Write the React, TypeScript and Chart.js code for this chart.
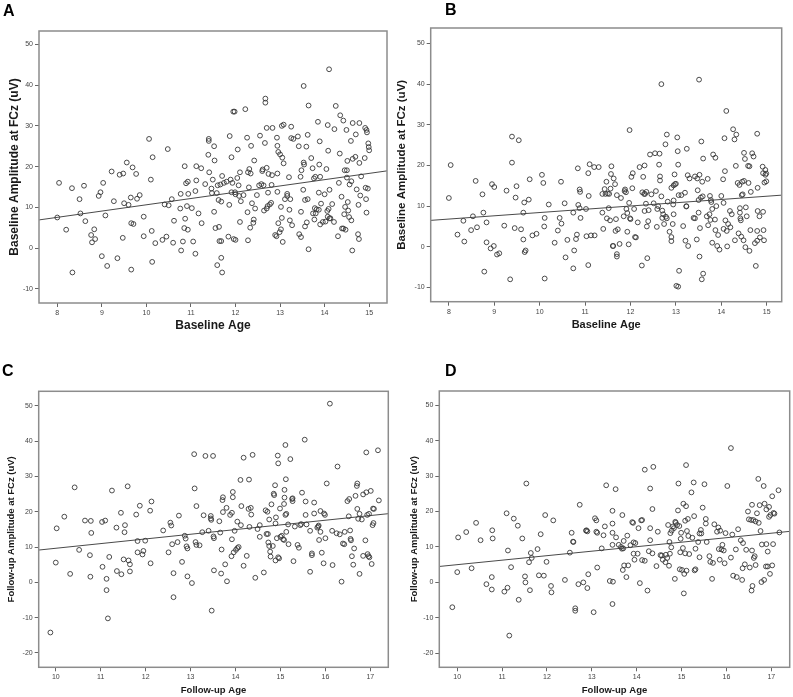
import React, { useEffect, useRef } from "react";
import { Chart, registerables } from "chart.js";

Chart.register(...registerables);

// ---------------- DATA ----------------
const xTicksBaseline = [8, 9, 10, 11, 12, 13, 14, 15];
const yTicksBaseline = [-10, 0, 10, 20, 30, 40, 50];
const xTicksFollow = [10, 11, 12, 13, 14, 15, 16, 17];
const yTicksFollow = [-20, -10, 0, 10, 20, 30, 40, 50];

const panelLetters = ["A", "B", "C", "D"];
const xTitles = ["Baseline Age", "Baseline Age", "Follow-up Age", "Follow-up Age"];
const yTitles = [
  "Baseline Amplitude at FCz (uV)",
  "Baseline Amplitude at FCz (uV)",
  "Follow-up Amplitude at FCz (uV)",
  "Follow-up Amplitude at FCz (uV)",
];

const xRangeA = [7.59, 15.4];
const yRangeA = [-13.5, 53.3];
const xRangeB = [7.6, 15.33];
const yRangeB = [-13.5, 53.8];
const xRangeC = [9.62, 17.4];
const yRangeC = [-24.05, 54.1];
const xRangeD = [9.6, 17.41];
const yRangeD = [-23.95, 54.0];

// fit line end points [age, amplitude]
const lineA: [number, number][] = [[7.59, 6.9], [15.4, 18.95]];
const lineB: [number, number][] = [[7.6, 6.5], [15.33, 12.7]];
const lineC: [number, number][] = [[9.62, 9.15], [17.4, 19.45]];
const lineD: [number, number][] = [[9.6, 4.5], [17.41, 14.4]];

const pointsA: [number, number][] = [
  [8.0,7.5],[8.04,16],[8.2,4.5],[8.33,14.7],[8.34,-6],[8.5,12],[8.52,8.5],[8.6,15.3],[8.63,6.6],[8.76,3.2],[8.78,1.4],[8.83,4.6],[8.85,2.2],[8.93,12.8],[8.97,13.7],[9.0,-2],[9.03,16],[9.08,8],[9.12,-4.4],[9.22,18.8],[9.27,11.5],[9.35,-2.5],[9.4,18],[9.47,2.5],[9.48,18.3],[9.5,11],[9.56,21],[9.6,10.6],[9.65,12.4],[9.66,6.1],[9.66,-5.3],[9.69,19.8],[9.71,5.9],[9.77,18.2],[9.79,12.1],[9.85,13],[9.94,7.7],[9.94,2.9],
  [10.06,26.8],[10.1,16.8],[10.12,4.2],[10.13,-3.4],[10.14,22.3],[10.2,1.2],[10.36,2],[10.41,10.7],[10.45,2.8],[10.48,24.3],[10.5,10.5],[10.57,12],[10.6,1.3],[10.62,6.7],[10.76,9.7],[10.77,13.3],[10.78,-0.6],[10.82,1.6],[10.85,4.9],[10.86,20.1],[10.87,7.2],[10.89,15.9],[10.91,10.3],[10.93,16.3],[10.93,4.5],[10.94,13.3],
  [11.02,9.8],[11.05,1.6],[11.1,-1.4],[11.1,14],[11.12,16.6],[11.12,20.1],[11.17,8.5],[11.23,19.6],[11.24,6.1],[11.32,15.7],[11.39,22.9],[11.4,26.8],[11.4,26.3],[11.41,18.6],[11.46,14.6],[11.47,13.5],[11.49,16.8],[11.52,25],[11.52,8.9],[11.53,21.5],[11.55,4.9],[11.58,13.5],[11.59,-4.2],[11.6,15.4],[11.62,11.8],[11.63,5.2],[11.64,1.7],[11.66,15.6],[11.68,11.4],[11.68,1.7],[11.68,-2.4],[11.7,-6],[11.7,17.7],[11.74,16],[11.8,16.3],[11.84,2.8],[11.86,10.6],[11.87,27.5],[11.89,16.8],[11.91,13.7],[11.91,22.3],[11.93,16],[11.95,33.5],[11.96,2.2],[11.98,33.5],[11.99,13.7],
  [12.0,2],[12.0,13.2],[12.04,17.2],[12.05,24.2],[12.07,15.4],[12.08,12.8],[12.1,18.6],[12.1,6.4],[12.12,11.5],[12.18,13],[12.22,34.1],[12.26,27.1],[12.27,8.8],[12.28,1.9],[12.28,18.6],[12.3,14.9],[12.31,19.4],[12.33,5],[12.34,18.3],[12.35,25.1],[12.37,11],[12.4,6.2],[12.41,7],[12.42,21.5],[12.44,9.7],[12.48,13],[12.53,15.4],[12.55,27.6],[12.58,15.7],[12.6,18.9],[12.61,19.3],[12.63,15.4],[12.64,9.2],[12.66,25.8],[12.67,36.7],[12.67,35.7],[12.7,29.5],[12.7,19.7],[12.7,9.7],[12.72,10.3],[12.73,13.6],[12.74,18.2],[12.77,10.7],[12.8,11.1],[12.81,15.5],[12.83,29.5],[12.82,17.9],[12.89,3.2],[12.92,2.9],[12.93,27.1],[12.94,25.1],[12.94,18.3],[12.94,13.8],[12.96,6.1],[12.96,23.6],[12.99,3.9],
  [13.0,23],[13.02,10.1],[13.02,4.6],[13.04,30],[13.04,7.4],[13.05,22.2],[13.06,1.5],[13.08,30.3],[13.08,20.8],[13.11,12],[13.16,13.3],[13.16,12.8],[13.2,17.4],[13.21,9.4],[13.22,6.8],[13.23,12],[13.25,29.8],[13.25,27],[13.27,5.6],[13.3,26.8],[13.4,27.4],[13.42,25],[13.43,3.4],[13.46,17.5],[13.47,2.7],[13.47,8.9],[13.48,19.1],[13.52,14.3],[13.53,21],[13.53,39.8],[13.54,20.5],[13.56,5.3],[13.56,11.8],[13.59,24.9],[13.6,6.3],[13.62,12],[13.62,27.8],[13.64,35],[13.64,-0.3],[13.7,22.1],[13.73,19.6],[13.74,8.5],[13.76,17.1],[13.77,7],[13.78,9.8],[13.79,17.5],[13.8,8.5],[13.82,9.5],[13.85,31],[13.87,9.4],[13.87,13.6],[13.88,20.5],[13.89,26.2],[13.9,5.8],[13.9,17.5],[13.92,10.9],[13.96,6.4],
  [14.0,13.2],[14.02,6.5],[14.04,19.4],[14.06,9.1],[14.07,7.7],[14.07,30.2],[14.08,23.9],[14.09,9.6],[14.1,43.9],[14.11,7.3],[14.11,14.3],[14.13,7.3],[14.17,10.8],[14.21,6.4],[14.22,29.2],[14.25,34.9],[14.3,2.9],[14.32,16],[14.34,23.2],[14.35,32.6],[14.38,12.6],[14.39,4.8],[14.42,4.8],[14.42,31.3],[14.44,8.3],[14.45,19.1],[14.46,10.1],[14.47,4.5],[14.49,29],[14.5,19.1],[14.5,17.3],[14.51,21.4],[14.52,11.3],[14.53,9.2],[14.55,7.6],[14.56,15.6],[14.59,26.3],[14.6,16.4],[14.6,6.8],[14.62,-0.6],[14.63,30.7],[14.63,21.9],[14.69,22.4],[14.7,27.9],[14.72,14.4],[14.75,3.4],[14.76,10.6],[14.77,2.2],[14.78,30.7],[14.78,20.9],[14.8,12.9],[14.82,17.6],[14.9,22.1],[14.91,29.5],[14.92,14.8],[14.93,12],[14.94,8.7],[14.94,29],[14.95,28.4],[14.97,14.6],[14.98,25.7],[14.99,24.8],[15.0,24],
];

const pointsB: [number, number][] = [
  [8.0,12],[8.04,20.1],[8.19,3],[8.32,6.4],[8.34,1.3],[8.49,4.1],[8.53,7.5],[8.59,16.2],[8.62,4.8],[8.74,12.9],[8.76,8.4],[8.78,-6.1],[8.83,6],[8.83,1.1],[8.92,-0.4],[8.95,15.4],[9.0,14.7],[8.99,0.2],[9.06,-1.9],[9.11,-1.6],[9.22,5.2],[9.27,13.8],[9.35,-8],[9.39,27.1],[9.39,20.7],[9.45,4.6],[9.47,12.1],[9.49,14.9],[9.54,26.2],[9.59,4.3],[9.64,1.8],[9.66,10.9],[9.64,8.4],[9.67,-1.3],[9.69,-0.9],[9.76,11.6],[9.78,16.6],[9.84,2.8],[9.93,3.2],
  [10.05,17.7],[10.08,15.7],[10.11,7.1],[10.1,5],[10.11,-7.8],[10.2,10.4],[10.33,1],[10.4,4],[10.44,7.1],[10.47,16],[10.48,5.7],[10.55,10.7],[10.57,-2.6],[10.61,1.7],[10.74,8.4],[10.74,-5.3],[10.76,-0.9],[10.8,1.9],[10.82,3],[10.84,19.3],[10.85,10.3],[10.88,14.1],[10.89,13.5],[10.88,9.5],[10.9,7.1],
  [11.02,9.3],[11.03,2.6],[11.07,18.1],[11.08,12.5],[11.07,-4.5],[11.1,20.3],[11.13,2.8],[11.2,19.6],[11.21,2.8],[11.3,19.6],[11.38,13],[11.38,8.4],[11.4,4.4],[11.43,14.2],[11.45,13],[11.47,16],[11.48,7],[11.5,13.1],[11.52,9.5],[11.53,13],[11.55,6.5],[11.56,14.3],[11.57,17.9],[11.58,19.8],[11.61,0.2],[11.62,0.2],[11.63,16.8],[11.66,15.4],[11.67,3.9],[11.68,6.8],[11.7,-1.8],[11.7,-2.4],[11.7,12.7],[11.72,4.3],[11.76,0.7],[11.79,12],[11.85,7.5],[11.87,13.7],[11.88,14.1],[11.9,13.4],[11.91,9.3],[11.93,3.7],[11.93,8.3],[11.96,0.6],[11.97,10.8],[11.98,28.7],[11.99,7],
  [12.0,6.8],[12.02,17.2],[12.04,14.4],[12.05,18.1],[12.08,9.3],[12.1,2.4],[12.12,2.3],[12.16,6],[12.2,19.6],[12.25,-4.6],[12.26,13.4],[12.28,17.2],[12.3,13],[12.31,8.8],[12.31,20],[12.32,13],[12.34,10.6],[12.35,13.5],[12.36,5],[12.37,-2.8],[12.39,6.3],[12.4,9],[12.43,22.7],[12.46,12.9],[12.51,10.7],[12.54,23],[12.56,13.7],[12.58,4.9],[12.59,9.3],[12.61,10],[12.63,20.2],[12.64,22.9],[12.65,17.3],[12.65,16.3],[12.68,40],[12.68,12.4],[12.7,7.1],[12.7,8.9],[12.72,8],[12.74,5.6],[12.77,25.2],[12.78,7.4],[12.8,27.6],[12.8,7],[12.82,11.1],[12.86,3.7],[12.9,1.4],[12.9,2.4],[12.9,14.5],[12.93,5.6],[12.94,10.4],[12.95,11.4],[12.95,8],[12.95,15.1],[12.97,17.8],[12.98,15.4],[13.0,15.5],
  [13.01,-9.6],[13.03,26.9],[13.04,23.5],[13.05,-9.8],[13.05,20.2],[13.06,12.7],[13.07,-5.9],[13.12,12.7],[13.16,5.1],[13.2,13.3],[13.21,1.5],[13.23,10],[13.23,9.9],[13.24,24.1],[13.26,17.6],[13.27,0.2],[13.3,16.8],[13.39,7.1],[13.42,17.3],[13.42,7],[13.46,1.8],[13.47,16.8],[13.48,13.9],[13.5,11.5],[13.5,8.4],[13.51,41.1],[13.52,17.7],[13.52,-2.4],[13.53,4.6],[13.55,12.1],[13.56,25.9],[13.57,-8],[13.58,16],[13.59,12.4],[13.6,21.7],[13.6,-6.6],[13.68,7.5],[13.7,16.7],[13.71,5.3],[13.74,8],[13.75,12.5],[13.76,6.6],[13.77,11.5],[13.78,11],[13.8,9.3],[13.8,1],[13.82,22.7],[13.86,6.7],[13.87,21.9],[13.87,4.1],[13.89,10],[13.91,0.2],[13.93,2.9],[13.96,-0.7],
  [14.0,12.5],[14.04,16.6],[14.05,10.8],[14.05,4.4],[14.07,26.7],[14.08,18.6],[14.09,6.5],[14.11,33.4],[14.12,3.9],[14.13,0.1],[14.15,5.6],[14.19,8.8],[14.2,4.8],[14.23,8],[14.26,28.9],[14.29,26.4],[14.3,1.6],[14.32,19.9],[14.33,27.6],[14.36,15.7],[14.38,3.3],[14.4,15.2],[14.41,9.5],[14.41,8.4],[14.42,7],[14.43,6.5],[14.44,2.5],[14.45,12.7],[14.46,16],[14.47,12.9],[14.49,1.6],[14.5,23.1],[14.5,16.2],[14.52,21.6],[14.53,-0.1],[14.54,9.7],[14.56,7.5],[14.59,19.9],[14.6,15.7],[14.62,-1],[14.62,19.8],[14.64,4.1],[14.65,13.5],[14.68,23],[14.71,22.2],[14.74,0.9],[14.76,-4.7],[14.79,1.5],[14.79,3.9],[14.79,27.8],[14.8,14.5],[14.8,8.8],[14.84,7.5],[14.85,2.3],[14.91,19.7],[14.92,8.6],[14.92,18.1],[14.93,4.1],[14.94,1.6],[14.95,15.8],[14.97,18.9],[14.97,17.7],[14.99,16.1],[14.99,18],
];

const pointsC: [number, number][] = [
  [9.88,-14.2],[10.0,5.6],[10.02,15.3],[10.19,18.6],[10.32,2.4],[10.42,26.9],[10.52,9.2],[10.65,17.5],[10.76,7.7],[10.77,1.6],[10.78,17.4],[10.79,14],
  [11.04,4.4],[11.03,17.1],[11.1,17.5],[11.13,1],[11.13,-2.2],[11.16,-10.2],[11.19,7.2],[11.25,26],[11.35,15.5],[11.36,3.2],[11.45,19.7],[11.46,2.3],[11.51,6.5],[11.53,14.2],[11.54,16.2],[11.6,27.2],[11.62,6.2],[11.65,5.1],[11.65,3.1],[11.79,19.2],[11.82,8.5],[11.82,11.7],[11.87,21.7],[11.93,7.9],[11.95,8.9],[11.99,11.8],
  [12.1,20.3],[12.11,5.4],[12.13,22.9],[12.39,14.7],[12.51,8.5],[12.55,16.9],[12.57,16.1],[12.59,10.8],[12.62,2.6],[12.62,-4.2],[12.71,11.4],[12.74,18.9],[12.81,5.8],[12.87,13.2],[12.89,12.4],[12.91,10.2],[12.93,9.6],[12.93,1.7],
  [13.03,-0.2],[13.08,36.3],[13.09,26.6],[13.13,21.6],[13.11,11.4],[13.13,10.6],[13.2,10.5],[13.26,14.2],[13.29,19],[13.33,35.8],[13.4,14.6],[13.45,18.8],[13.45,18.1],[13.46,17.7],[13.47,-8],[13.5,35.8],[13.51,13],[13.52,12.5],[13.52,3.4],
  [13.66,14.1],[13.64,17.3],[13.69,9.3],[13.68,2.5],[13.71,23.3],[13.72,24.1],[13.72,19.9],[13.77,5.1],[13.8,21.1],[13.81,0.3],[13.88,19.1],[13.92,19.7],[13.92,12.2],[13.94,24.1],[13.94,25.6],[13.98,14.6],[13.91,7.4],[13.96,8.5],
  [14.01,9.2],[14.04,9.7],[14.07,10],[14.04,17.2],[14.11,29],[14.12,16.2],[14.13,21.6],[14.18,35.3],[14.18,4.7],[14.25,7.5],[14.3,29.1],[14.31,15.7],[14.29,20.8],[14.34,21.1],[14.35,19.2],[14.38,36.1],[14.44,1.3],[14.49,15.1],[14.54,16.2],[14.54,12.9],[14.63,2.8],[14.67,20.4],[14.69,13.7],[14.72,13.7],[14.71,20],[14.73,11.3],[14.75,17.8],[14.75,10.3],[14.77,8.7],[14.78,7.3],[14.8,22.1],[14.83,10.3],[14.85,25.1],[14.86,24.7],[14.88,27.5],[14.89,6.2],[14.89,16.7],[14.9,18.4],[14.92,12.5],[14.94,35.9],[14.95,33.7],[14.95,7.1],[14.97,6.8],[14.99,20.9],
  [15.0,12.9],[15.03,13.2],[15.06,12.2],[15.08,12],[15.08,22.2],[15.09,24],[15.09,26.2],[15.11,38.9],[15.11,19.1],[15.12,29.2],[15.13,19.4],[15.13,14.3],[15.17,16.4],[15.18,10.8],[15.22,34.9],[15.26,23.6],[15.27,23],[15.27,23.8],[15.29,6],[15.32,15.8],[15.38,10.6],[15.41,9.8],[15.44,16.2],[15.46,16.5],[15.48,25.4],[15.54,40.4],[15.56,22.9],[15.56,19.1],[15.58,16.4],[15.66,14.6],[15.66,3],[15.7,7.7],[15.7,8.2],[15.75,22.6],[15.75,19.5],[15.82,15.5],[15.84,15.8],[15.85,16.1],[15.86,12],[15.89,14.3],[15.89,20.2],[15.92,8.4],[15.96,5.4],[15.97,19.5],[15.99,19.1],
  [16.0,12.5],[16.03,28],[16.1,50.6],[16.15,14.6],[16.16,4.9],[16.25,13.9],[16.27,32.8],[16.32,13.6],[16.36,0.2],[16.39,11],[16.42,10.8],[16.43,14.3],[16.49,23],[16.52,18.7],[16.53,23.6],[16.55,14.7],[16.56,12.3],[16.57,11.9],[16.59,7.4],[16.62,5],[16.64,9.6],[16.67,24.5],[16.7,27.3],[16.71,28],[16.71,20.8],[16.73,18],[16.76,19.4],[16.76,2.4],[16.81,17.8],[16.84,24.9],[16.84,7.5],[16.89,11.9],[16.91,25.5],[16.91,36.8],[16.93,19.1],[16.94,8],[16.96,7.4],[16.97,19.4],[16.98,7.1],
  [17.01,25.9],[17.03,5.2],[17.06,20.9],[17.07,16.8],[17.08,20.8],[17.05,16.2],[17.17,37.4],[17.19,23.2],
];

const pointsD: [number, number][] = [
  [9.89,-7],[10.0,2.9],[10.02,12.7],[10.2,14.2],[10.32,4],[10.42,16.8],[10.52,11.9],[10.65,-0.5],[10.77,1.5],[10.77,-2],[10.78,14.7],[10.79,12.4],
  [11.05,-2.6],[11.1,19.5],[11.13,9],[11.12,-1.5],[11.16,-15],[11.2,4.3],[11.26,18],[11.35,16],[11.37,-4.9],[11.45,12.4],[11.51,1.7],[11.52,0],[11.54,27.9],[11.62,-2.2],[11.64,8.3],[11.66,6.9],[11.6,5.7],[11.79,9.4],[11.82,2],[11.86,13.6],[11.93,1.9],[11.96,19],[11.99,5.8],
  [12.09,-1],[12.1,-2.8],[12.14,17.5],[12.4,0.7],[12.51,8.4],[12.55,14],[12.58,11.5],[12.59,11.4],[12.63,-7.3],[12.63,-8],[12.7,-0.5],[12.73,21.9],[12.81,0],[12.9,-1.6],[12.92,2.3],[12.88,14.7],[12.9,14.4],[12.87,14.6],
  [13.04,-8.4],[13.07,18.1],[13.1,17.5],[13.1,14.3],[13.12,14],[13.12,4.2],[13.22,9.6],[13.26,13.3],[13.29,15.8],[13.32,27.4],[13.4,0.4],[13.46,20.2],[13.46,16.6],[13.46,14],[13.46,10.6],[13.47,0.2],[13.46,-6.1],[13.53,26.3],[13.54,12.7],
  [13.6,10.6],[13.65,10],[13.67,9.5],[13.7,9.6],[13.68,19],[13.71,11.7],[13.69,3.5],[13.72,4.8],[13.77,1.5],[13.79,13.2],[13.81,4.8],[13.86,10.5],[13.9,17],[13.92,16.8],[13.93,11.3],[13.93,8.1],[13.95,6.4],[13.97,11.1],
  [14.02,8.1],[14.04,15.3],[14.07,-0.2],[14.1,17.5],[14.12,17.6],[14.12,6.3],[14.18,31.8],[14.18,6.1],[14.24,-2.3],[14.27,8.8],[14.3,26.5],[14.3,15.3],[14.3,11.9],[14.35,20.7],[14.37,32.6],[14.35,8.2],[14.44,4.6],[14.47,14.3],[14.53,7.7],[14.56,7.6],[14.58,6.4],[14.64,5.7],[14.65,7.8],[14.68,6.9],[14.7,16.2],[14.72,4.7],[14.73,11.4],[14.74,8.1],[14.75,13.9],[14.77,9.9],[14.78,14.6],[14.81,15.8],[14.83,15.3],[14.85,1],[14.86,17.1],[14.87,16.8],[14.9,16.2],[14.92,20.3],[14.93,27.9],[14.95,15.9],[14.96,3.7],[14.97,8.5],[14.98,12.3],[14.99,14],
  [15.01,3.5],[15.03,9.7],[15.04,22.2],[15.05,-3.1],[15.06,2.4],[15.08,8.2],[15.08,17.4],[15.1,21.5],[15.1,33.1],[15.11,3.3],[15.12,14.5],[15.14,17.9],[15.15,13.1],[15.17,8],[15.22,25.4],[15.24,12.6],[15.27,28.2],[15.28,18.7],[15.29,3.4],[15.31,3.7],[15.31,9.5],[15.37,11.4],[15.4,7.1],[15.4,13.8],[15.43,14.8],[15.44,13.8],[15.47,21.1],[15.51,27.7],[15.54,17.9],[15.54,16.6],[15.56,11.4],[15.62,7.4],[15.64,5.8],[15.68,1],[15.7,5.5],[15.73,16.4],[15.79,14.3],[15.82,15.5],[15.83,9.4],[15.85,6.4],[15.86,14.6],[15.89,9.3],[15.91,10.6],[15.94,9],[15.96,5.4],[15.98,13.9],
  [16.02,27.2],[16.1,37.9],[16.1,7],[16.13,13.5],[16.15,1.9],[16.21,9.3],[16.23,1.5],[16.26,15],[16.32,11.9],[16.35,0.7],[16.36,4],[16.37,11.1],[16.41,5.1],[16.44,9.2],[16.48,20],[16.5,17.8],[16.52,4.2],[16.55,17.6],[16.56,-2.3],[16.57,21.9],[16.57,9],[16.58,-1],[16.6,17.6],[16.61,6.9],[16.63,7.4],[16.65,4.9],[16.65,17.2],[16.68,19.5],[16.71,29.2],[16.72,16.8],[16.74,21.8],[16.76,14.5],[16.78,0.1],[16.79,10.7],[16.83,27.2],[16.84,0.7],[16.85,22.2],[16.88,4.5],[16.89,10.8],[16.89,20.6],[16.92,4.5],[16.92,8.7],[16.95,21.3],[16.95,18.5],[16.97,2.4],[16.98,19],
  [17.02,24.3],[17.02,4.8],[17.04,10.8],[17.05,19.6],[17.07,19.4],[17.16,26],[17.18,14.1],
];

// ---------------- LAYOUT ----------------
const FONT = "'Liberation Sans', Arial, Helvetica, sans-serif";

type PanelCfg = {
  letter: string;
  points: [number, number][];
  line: [number, number][];
  xRange: number[];
  yRange: number[];
  xTicks: number[];
  yTicks: number[];
  xTitle: string;
  yTitle: string;
  left: number;
  top: number;
  w: number;
  h: number;
  area: { l: number; t: number; r: number; b: number };
  yTitleSize: number;
  xTitleSize: number;
  yTitlePad: number;
  xTitlePad: number;
  letterPos: { x: number; y: number };
};

const panels: PanelCfg[] = [
  {
    letter: panelLetters[0], points: pointsA, line: lineA, xRange: xRangeA, yRange: yRangeA,
    xTicks: xTicksBaseline, yTicks: yTicksBaseline, xTitle: xTitles[0], yTitle: yTitles[0],
    left: 0, top: 0, w: 393, h: 333, area: { l: 39, t: 31, r: 387, b: 303 },
    yTitleSize: 12, xTitleSize: 12, yTitlePad: 7.8, xTitlePad: -0.2, letterPos: { x: 3, y: 3 },
  },
  {
    letter: panelLetters[1], points: pointsB, line: lineB, xRange: xRangeB, yRange: yRangeB,
    xTicks: xTicksBaseline, yTicks: yTicksBaseline, xTitle: xTitles[1], yTitle: yTitles[1],
    left: 393, top: 0, w: 400, h: 333, area: { l: 37.7, t: 28, r: 388.7, b: 301.7 },
    yTitleSize: 11.5, xTitleSize: 11, yTitlePad: 2.1, xTitlePad: 1.4, letterPos: { x: 445, y: 1.5 },
  },
  {
    letter: panelLetters[2], points: pointsC, line: lineC, xRange: xRangeC, yRange: yRangeC,
    xTicks: xTicksFollow, yTicks: yTicksFollow, xTitle: xTitles[2], yTitle: yTitles[2],
    left: 0, top: 333, w: 393, h: 364, area: { l: 38.7, t: 58.3, r: 388.3, b: 334.3 },
    yTitleSize: 9.5, xTitleSize: 9.5, yTitlePad: 6, xTitlePad: 0.6, letterPos: { x: 2, y: 363 },
  },
  {
    letter: panelLetters[3], points: pointsD, line: lineD, xRange: xRangeD, yRange: yRangeD,
    xTicks: xTicksFollow, yTicks: yTicksFollow, xTitle: xTitles[3], yTitle: yTitles[3],
    left: 393, top: 333, w: 400, h: 364, area: { l: 46.3, t: 58, r: 398.7, b: 334.3 },
    yTitleSize: 9.5, xTitleSize: 9.5, yTitlePad: 15.3, xTitlePad: 0.6, letterPos: { x: 445, y: 363 },
  },
];

const boxPlugin = {
  id: "plotBox",
  afterDatasetsDraw(chart: any) {
    const { ctx, chartArea: a } = chart;
    ctx.save();
    ctx.strokeStyle = "#8c8c8c";
    ctx.lineWidth = 1.5;
    ctx.strokeRect(a.left, a.top, a.right - a.left, a.bottom - a.top);
    ctx.restore();
  },
};

function PanelChart({ cfg }: { cfg: PanelCfg }) {
  const ref = useRef<HTMLCanvasElement>(null);
  useEffect(() => {
    const canvas = ref.current;
    if (!canvas) return;
    const tickFont = { family: FONT, size: 7 };
    const chart = new Chart(canvas, {
      type: "scatter",
      data: {
        datasets: [
          {
            data: cfg.points.map(([x, y]) => ({ x, y })),
            pointRadius: 2.4,
            pointHoverRadius: 2.4,
            borderWidth: 0.9,
            borderColor: "#383838",
            backgroundColor: "rgba(0,0,0,0)",
          },
          {
            data: cfg.line.map(([x, y]) => ({ x, y })),
            showLine: true,
            pointRadius: 0,
            borderWidth: 1,
            borderColor: "#4a4a4a",
            backgroundColor: "rgba(0,0,0,0)",
          },
        ],
      },
      options: {
        responsive: false,
        animation: false,
        devicePixelRatio: 1,
        events: [],
        layout: {
          padding: { left: 0, top: cfg.area.t, right: cfg.w - cfg.area.r, bottom: 0 },
        },
        plugins: { legend: { display: false }, tooltip: { enabled: false } },
        scales: {
          x: {
            type: "linear",
            min: cfg.xRange[0],
            max: cfg.xRange[1],
            afterBuildTicks: (ax: any) => {
              ax.ticks = cfg.xTicks.map((v) => ({ value: v }));
            },
            afterFit: (ax: any) => {
              ax.height = cfg.h - cfg.area.b;
            },
            grid: { drawOnChartArea: false, drawTicks: true, tickLength: 4, color: "#666", lineWidth: 1 },
            border: { display: false },
            ticks: { font: tickFont, color: "#444", padding: 2, maxRotation: 0, autoSkip: false },
            title: {
              display: true,
              text: cfg.xTitle,
              color: "#1a1a1a",
              font: { family: FONT, size: cfg.xTitleSize, weight: "bold" },
              padding: { top: 0, bottom: cfg.xTitlePad },
            },
          },
          y: {
            type: "linear",
            min: cfg.yRange[0],
            max: cfg.yRange[1],
            afterBuildTicks: (ax: any) => {
              ax.ticks = cfg.yTicks.map((v) => ({ value: v }));
            },
            afterFit: (ax: any) => {
              ax.width = cfg.area.l;
            },
            grid: { drawOnChartArea: false, drawTicks: true, tickLength: 4, color: "#666", lineWidth: 1 },
            border: { display: false },
            ticks: { font: tickFont, color: "#444", padding: 2, autoSkip: false },
            title: {
              display: true,
              text: cfg.yTitle,
              color: "#1a1a1a",
              font: { family: FONT, size: cfg.yTitleSize, weight: "bold" },
              padding: { top: cfg.yTitlePad, bottom: 0 },
            },
          },
        },
      },
      plugins: [boxPlugin],
    } as any);
    return () => chart.destroy();
  }, [cfg]);
  return (
    <canvas
      ref={ref}
      width={cfg.w}
      height={cfg.h}
      style={{ position: "absolute", left: cfg.left, top: cfg.top, width: cfg.w, height: cfg.h }}
    />
  );
}

export default function App() {
  return (
    <div
      style={{
        position: "absolute",
        left: 0,
        top: 0,
        width: 793,
        height: 697,
        background: "#ffffff",
        overflow: "hidden",
      }}
    >
      {panels.map((p) => (
        <PanelChart key={p.letter} cfg={p} />
      ))}
      {panels.map((p) => (
        <div
          key={"lbl" + p.letter}
          style={{
            position: "absolute",
            left: p.letterPos.x,
            top: p.letterPos.y,
            fontFamily: FONT,
            fontWeight: "bold",
            fontSize: 16,
            lineHeight: "16px",
            color: "#000",
          }}
        >
          {p.letter}
        </div>
      ))}
    </div>
  );
}
